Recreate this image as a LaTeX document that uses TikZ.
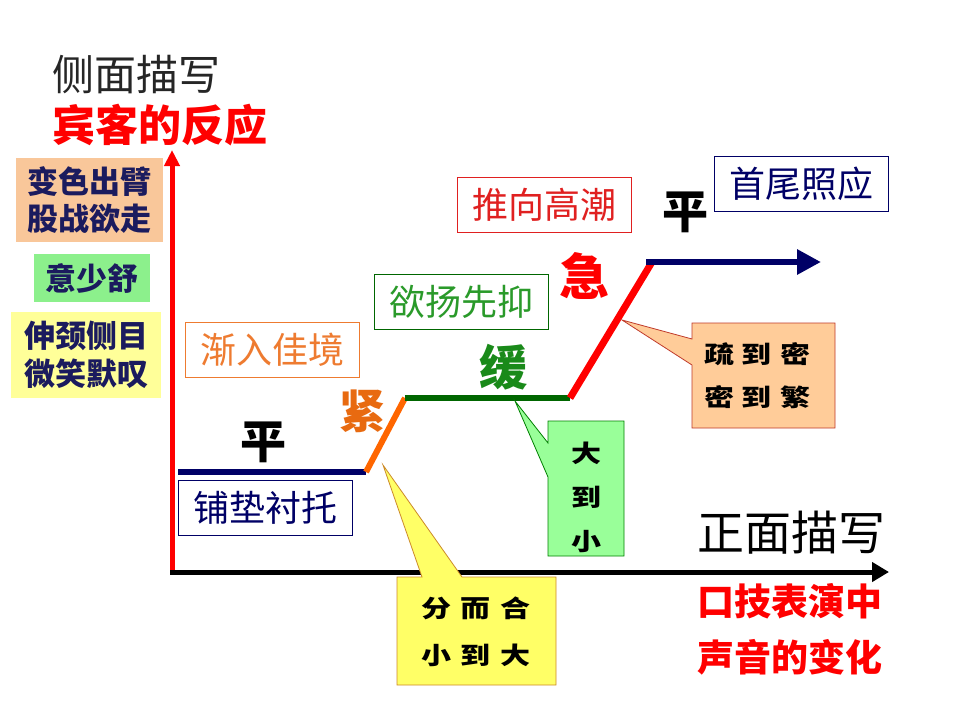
\documentclass[tikz,border=0pt]{standalone}
\usepackage{fontspec}
\setmainfont{Noto Sans CJK SC}
\newfontfamily\lishu[FakeStretch=1.25]{Noto Sans CJK SC}
\usetikzlibrary{arrows.meta}
\newcommand\fs[1]{\fontsize{#1}{#1}\selectfont}
\newcommand\fsl[2]{\fontsize{#1}{#2}\selectfont}
\definecolor{navy}{HTML}{000066}
\definecolor{dgreen}{HTML}{006600}
\definecolor{boxtan}{HTML}{F9C79A}
\definecolor{boxgreen}{HTML}{8CF08C}
\definecolor{boxyellow}{HTML}{FFFF99}
\definecolor{inknavy}{HTML}{1B1B5E}
\definecolor{lblorange}{HTML}{EE7B30}
\definecolor{lblgreen}{HTML}{2A9A2A}
\definecolor{lblred}{HTML}{E02020}
\definecolor{calyellow}{HTML}{FFFF66}
\definecolor{calyellowb}{HTML}{CC8A2A}
\definecolor{calgreen}{HTML}{99FF99}
\definecolor{calgreenb}{HTML}{008000}
\definecolor{caltan}{HTML}{FFCC99}
\definecolor{caltanb}{HTML}{C03A2A}
\definecolor{jinorange}{HTML}{E86A10}
\definecolor{huangreen}{HTML}{1A8A1A}
\definecolor{lineorange}{HTML}{FF6600}
\begin{document}
\begin{tikzpicture}[x=1pt,y=-1pt,
  title/.style={inner sep=0, anchor=west},
  labelbox/.style={draw, line width=0.9pt, minimum width=174pt, minimum height=55pt, inner sep=0, font=\fs{36}},
  sidebox/.style={inner sep=0, font=\fsl{31}{37.5}\bfseries, text=inknavy, align=center},
  callig/.style={inner sep=0, font=\fs{46}\bfseries},
  caltext/.style={inner sep=0, align=center, text=black},
  curve/.style={line width=6pt},
]
\useasboundingbox[fill=white] (0,0) rectangle (960,720);

% titles
\node[title, font=\fs{42}, text=black!85] (t1) at (52,75) {侧面描写};
\node[title, font=\fs{43}\bfseries, text=red] (t2) at (52,125) {宾客的反应};
\node[title, font=\fs{47}] (t3) at (697,533) {正面描写};
\node[title, font=\fs{37}\bfseries, text=red] (t4) at (697,601) {口技表演中};
\node[title, font=\fs{37}\bfseries, text=red] (t5) at (697,657) {声音的变化};

% side boxes
\node[fill=boxtan, minimum width=147pt, minimum height=84pt, sidebox] (s1) at (89.5,200) {变色出臂\\股战欲走};
\node[fill=boxgreen, minimum width=116pt, minimum height=48pt, sidebox] (s2) at (92,278) {意少舒};
\node[fill=boxyellow, minimum width=150pt, minimum height=86pt, sidebox] (s3) at (86,355) {伸颈侧目\\微笑默叹};

% axes
\coordinate (o) at (170,572);
\coordinate (ytop) at (172,150);
\coordinate (yb) at (172,574);
\coordinate (xend) at (889,572);
\draw[red, line width=5pt, -{Triangle[length=16pt,width=15pt]}] (yb) -- (ytop);
\draw[black, line width=5pt, -{Triangle[length=17pt,width=19pt]}] (o) -- (xend);

% plot line
\coordinate (a0) at (178,472);
\coordinate (a1) at (366,472);
\coordinate (a2) at (405,398);
\coordinate (a3) at (570,398);
\coordinate (a4) at (652,262);
\coordinate (a4b) at (646,262);
\coordinate (a5) at (821,262);
\draw[curve, navy] (a0) -- (a1);
\draw[curve, lineorange] (a1) -- (a2);
\draw[curve, dgreen] (a2) -- (a3);
\draw[line width=7pt, red] (a3) -- (a4);
\draw[curve, navy, -{Triangle[length=24pt,width=24pt]}] (a4b) -- (a5);

% label boxes
\node[labelbox, draw=lblorange, text=lblorange] (b1) at (272,350) {渐入佳境};
\node[labelbox, draw=navy, text=navy] (b2) at (265,508) {铺垫衬托};
\node[labelbox, draw=dgreen, text=lblgreen] (b3) at (461.5,301.5) {欲扬先抑};
\node[labelbox, draw=lblred, text=lblred] (b4) at (544.5,205) {推向高潮};
\node[labelbox, draw=navy, text=navy] (b5) at (801,184) {首尾照应};

% calligraphic characters
\node[callig, text=black] (c1) at (263,442) {平};
\node[callig, text=jinorange] (c2) at (362,411) {紧};
\node[callig, font=\fs{48}\bfseries, text=huangreen] (c3) at (503,367) {缓};
\node[callig, font=\fs{50}\bfseries, text=red] (c4) at (584,276) {急};
\node[callig, text=black] (c5) at (685,212) {平};

% callouts
\coordinate (yt) at (383,465);
\filldraw[fill=calyellow, draw=calyellowb, line width=0.8pt]
  (397,577) -- (422,577) -- (yt) -- (462,577) -- (556,577) -- (556,685) -- (397,685) -- cycle;
\node[caltext, font=\lishu\fsl{24}{47}\bfseries] (k1) at (476,631.5) {分\kern10pt 而\kern10pt 合\\小\kern10pt 到\kern10pt 大};

\coordinate (gt) at (515,401);
\filldraw[fill=calgreen, draw=calgreenb, line width=0.8pt]
  (548,421) -- (624,421) -- (624,556) -- (548,556) -- (548,477) -- (gt) -- (548,443) -- cycle;
\node[caltext, font=\lishu\fsl{24}{44}\bfseries] (k2) at (586,497) {大\\到\\小};

\coordinate (tt) at (622,320);
\filldraw[fill=caltan, draw=caltanb, line width=0.8pt]
  (692,323) -- (835,323) -- (835,428) -- (692,428) -- (692,365) -- (tt) -- (692,339) -- cycle;
\node[caltext, font=\lishu\fsl{24}{43}\bfseries] (k3) at (757,376) {疏\kern8pt 到\kern8pt 密\\密\kern8pt 到\kern8pt 繁};
\end{tikzpicture}
\end{document}
